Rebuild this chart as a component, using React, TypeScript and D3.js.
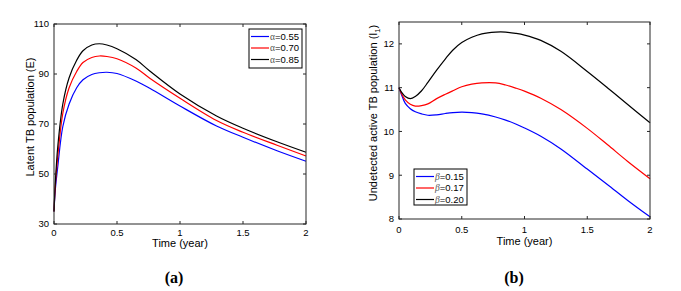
import React from "react";
import * as d3 from "d3";

// panel (a): latent TB population E
const tE = [0, 0.01, 0.03, 0.07, 0.12, 0.18, 0.23, 0.3, 0.36, 0.42, 0.5, 0.65, 0.76, 1.0, 1.29, 1.5, 1.77, 2.0];
const alpha055 = [35, 43.5, 53, 69, 78, 84.5, 87.7, 89.8, 90.5, 90.7, 90.2, 87.2, 84.3, 77.2, 69.2, 64.7, 59.3, 55.1];
const alpha070 = [35, 45, 57, 74.3, 84.5, 91, 94.6, 96.6, 97.2, 97.0, 96.1, 92.4, 88.3, 80.3, 71.4, 66.7, 61.5, 57.2];
const alpha085 = [35, 46, 61, 78, 88.5, 95.5, 99.3, 101.6, 102.1, 101.6, 100.1, 95.8, 91.2, 82, 73.2, 68.3, 62.9, 58.7];

// panel (b): undetected active TB population I1
const tI = [0, 0.02, 0.05, 0.09, 0.13, 0.18, 0.23, 0.3, 0.37, 0.43, 0.5, 0.58, 0.66, 0.77, 0.85, 0.93, 1.0, 1.13, 1.29, 1.5, 1.66, 1.82, 2.0];
const beta015 = [11.0, 10.84, 10.64, 10.52, 10.45, 10.4, 10.37, 10.38, 10.41, 10.43, 10.44, 10.43, 10.4, 10.33, 10.26, 10.17, 10.08, 9.89, 9.6, 9.14, 8.79, 8.43, 8.05];
const beta017 = [11.0, 10.86, 10.72, 10.62, 10.58, 10.59, 10.63, 10.75, 10.85, 10.93, 11.02, 11.08, 11.11, 11.11, 11.06, 10.99, 10.92, 10.76, 10.5, 10.07, 9.7, 9.32, 8.92];
const beta020 = [11.0, 10.9, 10.8, 10.75, 10.8, 10.93, 11.12, 11.4, 11.66, 11.86, 12.03, 12.15, 12.23, 12.27, 12.27, 12.24, 12.2, 12.08, 11.83, 11.37, 11.0, 10.62, 10.2];

const xTicks = [0, 0.5, 1, 1.5, 2];
const yTicksE = [30, 50, 70, 90, 110];
const yTicksI = [8, 9, 10, 11, 12];

const legendA = ["=0.55", "=0.70", "=0.85"];
const legendB = ["=0.15", "=0.17", "=0.20"];
const colors = ["#0000ff", "#ff0000", "#000000"];

const sans = "Liberation Sans, Arial, sans-serif";
const serif = "Liberation Serif, Times New Roman, serif";

type Box = { x0: number; x1: number; y0: number; y1: number };

const Panel = (props: {
  box: Box;
  t: number[];
  series: number[][];
  yDomain: [number, number];
  yTicks: number[];
  ylabel: React.ReactNode;
  ylabelPos: [number, number];
  xlabelY: number;
  xtickY: number;
  legend: { x: number; y: number; w: number; h: number; sym: string; italic: boolean; labels: string[] };
  tag: string;
  tagX: number;
}) => {
  const { box, t, series, yDomain, yTicks, legend } = props;
  const x = d3.scaleLinear().domain([0, 2]).range([box.x0, box.x1]);
  const y = d3.scaleLinear().domain(yDomain).range([box.y1, box.y0]);
  const line = d3
    .line<number>()
    .x((d, i) => x(t[i]))
    .y(d => y(d))
    .curve(d3.curveCatmullRom.alpha(0.5));
  const tl = 3;
  const axisColor = "#262626";

  return (
    <g>
      <clipPath id={"clip" + props.tag}>
        <rect x={box.x0} y={box.y0} width={box.x1 - box.x0} height={box.y1 - box.y0} />
      </clipPath>
      <g clipPath={`url(#clip${props.tag})`}>
        {series.map((s, i) => (
          <path key={i} d={line(s) || ""} fill="none" stroke={colors[i]} strokeWidth={1.2} />
        ))}
      </g>
      <rect x={box.x0} y={box.y0} width={box.x1 - box.x0} height={box.y1 - box.y0} fill="none" stroke={axisColor} strokeWidth={1} />
      {xTicks.map(v => (
        <g key={"x" + v}>
          <line x1={x(v)} x2={x(v)} y1={box.y1} y2={box.y1 - tl} stroke={axisColor} />
          <line x1={x(v)} x2={x(v)} y1={box.y0} y2={box.y0 + tl} stroke={axisColor} />
          <text x={x(v)} y={props.xtickY} fontSize={9.5} fontFamily={sans} textAnchor="middle">
            {v}
          </text>
        </g>
      ))}
      {yTicks.map(v => (
        <g key={"y" + v}>
          <line x1={box.x0} x2={box.x0 + tl} y1={y(v)} y2={y(v)} stroke={axisColor} />
          <line x1={box.x1} x2={box.x1 - tl} y1={y(v)} y2={y(v)} stroke={axisColor} />
          <text x={box.x0 - 5} y={y(v) + 3.3} fontSize={9.5} fontFamily={sans} textAnchor="end">
            {v}
          </text>
        </g>
      ))}
      <text x={(box.x0 + box.x1) / 2} y={props.xlabelY} fontSize={11} fontFamily={sans} textAnchor="middle">
        Time (year)
      </text>
      <text
        transform={`translate(${props.ylabelPos[0]},${props.ylabelPos[1]}) rotate(-90)`}
        fontSize={11}
        fontFamily={sans}
        textAnchor="middle"
      >
        {props.ylabel}
      </text>
      <rect x={legend.x} y={legend.y} width={legend.w} height={legend.h} fill="#fff" stroke="#000" strokeWidth={1} />
      {legend.labels.map((lab, i) => {
        const ly = legend.y + 7.5 + i * 11.5;
        return (
          <g key={lab}>
            <line x1={legend.x + 2} x2={legend.x + 20} y1={ly} y2={ly} stroke={colors[i]} strokeWidth={1.2} />
            <text x={legend.x + 21} y={ly + 3.3} fontSize={9.5} fontFamily={sans}>
              <tspan fontFamily={serif} fontStyle={legend.italic ? "italic" : "normal"} fill="#555">
                {legend.sym}
              </tspan>
              <tspan>{lab}</tspan>
            </text>
          </g>
        );
      })}
      <text x={props.tagX} y={283} fontSize={16} fontWeight="bold" fontFamily={serif} textAnchor="middle">
        {props.tag}
      </text>
    </g>
  );
};

export default function App() {
  return (
    <svg width={681} height={291} style={{ position: "absolute", left: 0, top: 0, background: "#fff" }}>
      <rect width={681} height={291} fill="#fff" />
      <Panel
        box={{ x0: 54, x1: 306, y0: 24, y1: 224 }}
        t={tE}
        series={[alpha055, alpha070, alpha085]}
        yDomain={[30, 110]}
        yTicks={yTicksE}
        ylabel="Latent TB population (E)"
        ylabelPos={[34, 117]}
        xlabelY={247}
        xtickY={236}
        legend={{ x: 249, y: 29, w: 53, h: 39, sym: "α", italic: false, labels: legendA }}
        tag="(a)"
        tagX={174}
      />
      <Panel
        box={{ x0: 399, x1: 650, y0: 22, y1: 219 }}
        t={tI}
        series={[beta015, beta017, beta020]}
        yDomain={[8, 12.5]}
        yTicks={yTicksI}
        ylabel={
          <>
            <tspan>Undetected active TB population (I</tspan>
            <tspan fontSize={7.5} dy={2.5}>1</tspan>
            <tspan dy={-2.5}>)</tspan>
          </>
        }
        ylabelPos={[377, 113]}
        xlabelY={245}
        xtickY={233}
        legend={{ x: 414, y: 169, w: 53, h: 36, sym: "β", italic: true, labels: legendB }}
        tag="(b)"
        tagX={514}
      />
    </svg>
  );
}
